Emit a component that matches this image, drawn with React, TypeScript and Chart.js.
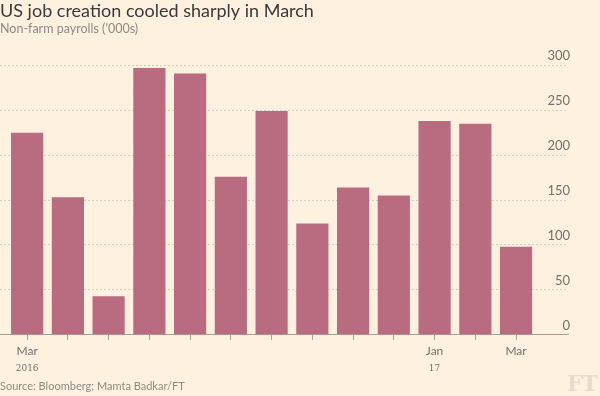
import React, { useEffect, useRef } from "react";
import { Chart, registerables } from "chart.js";

Chart.register(...registerables);

// ---- Data ----
const months = ["Mar 2016", "Apr", "May", "Jun", "Jul", "Aug", "Sep", "Oct", "Nov", "Dec", "Jan 2017", "Feb", "Mar"];
const payrolls = [225, 153, 43, 297, 291, 176, 249, 124, 164, 155, 238, 235, 98];
const monthTickLabels = ["Mar", "", "", "", "", "", "", "", "", "", "Jan", "", "Mar"];
const yearTickLabels = ["2016", "", "", "", "", "", "", "", "", "", "17", "", ""];
const yTickValues = [0, 50, 100, 150, 200, 250, 300];

const BG = "#fff1e0";
const BAR = "#b96c80";
const SANS = "Lato, 'Open Sans', sans-serif";

export default function App() {
  const canvasRef = useRef<HTMLCanvasElement | null>(null);

  useEffect(() => {
    if (!canvasRef.current) return;
    const xRange = { min: -0.666, max: 13.275 };
    const setXTicks = (s: any) => {
      s.ticks = months.map((_, i) => ({ value: i }));
    };
    const chart = new Chart(canvasRef.current, {
      type: "bar",
      data: {
        datasets: [
          {
            label: "Non-farm payrolls",
            data: payrolls.map((v, i) => ({ x: i, y: v })),
            backgroundColor: BAR,
            borderWidth: 0,
            barPercentage: 0.79,
            categoryPercentage: 1,
            xAxisID: "x",
            yAxisID: "y",
          },
        ],
      },
      options: {
        responsive: false,
        animation: false,
        layout: { padding: { top: 0, right: 28, bottom: 21, left: 0 } },
        plugins: {
          legend: { display: false },
          tooltip: { enabled: false },
          title: {
            display: true,
            text: "US job creation cooled sharply in March",
            align: "start",
            color: "#3a3a3a",
            font: { family: SANS, size: 18, weight: "normal", lineHeight: 1.2 },
            padding: { top: 0, bottom: 0 },
          },
          subtitle: {
            display: true,
            text: "Non-farm payrolls ('000s)",
            align: "start",
            color: "#8e8a86",
            font: { family: SANS, size: 12.5, weight: "normal", lineHeight: 1.2 },
            padding: { top: 0, bottom: 28.7 },
          },
        },
        scales: {
          x: {
            type: "linear",
            position: "bottom",
            min: xRange.min,
            max: xRange.max,
            offset: false,
            afterBuildTicks: setXTicks,
            grid: {
              display: true,
              offset: false,
              drawOnChartArea: false,
              drawTicks: true,
              tickLength: 5,
              tickColor: "#a89e94",
            },
            border: { display: true, color: "#a89e94", width: 1 },
            ticks: {
              autoSkip: false,
              maxRotation: 0,
              padding: 4,
              color: "#74706b",
              font: { family: SANS, size: 12 },
              callback: (v: any) => monthTickLabels[v as number] ?? "",
            },
          },
          x2: {
            type: "linear",
            position: "bottom",
            min: xRange.min,
            max: xRange.max,
            offset: false,
            afterBuildTicks: setXTicks,
            grid: { display: false, offset: false, drawTicks: false, tickLength: 0 },
            border: { display: false },
            ticks: {
              autoSkip: false,
              maxRotation: 0,
              padding: 1,
              color: "#74706b",
              font: { family: "Georgia, 'DejaVu Serif', serif", size: 9 },
              callback: (v: any) => yearTickLabels[v as number] ?? "",
            },
          },
          y: {
            position: "right",
            min: 0,
            max: 300,
            afterBuildTicks: (s: any) => {
              s.ticks = yTickValues.map((v) => ({ value: v }));
            },
            grid: { color: "#d9cbbd", drawTicks: false, lineWidth: 1 },
            border: { display: false, dash: [2, 2] },
            ticks: {
              mirror: true,
              padding: 2,
              labelOffset: -9,
              color: "#74706b",
              font: { family: SANS, size: 13 },
            },
          },
        },
      },
    });
    return () => chart.destroy();
  }, []);

  return (
    <div
      style={{
        position: "absolute",
        left: 0,
        top: 0,
        width: 600,
        height: 396,
        background: BG,
        overflow: "hidden",
      }}
    >
      <canvas ref={canvasRef} width={600} height={396} style={{ display: "block" }} />
      <div
        style={{
          position: "absolute",
          left: 0,
          top: 379,
          fontFamily: SANS,
          fontSize: 11,
          color: "#8e8a86",
          lineHeight: "14px",
          whiteSpace: "nowrap",
        }}
      >
        Source: Bloomberg; Mamta Badkar/FT
      </div>
      <div
        style={{
          position: "absolute",
          right: 3,
          top: 371,
          fontFamily: "Georgia, 'DejaVu Serif', serif",
          fontWeight: "bold",
          fontSize: 22,
          color: "#e6dbce",
          lineHeight: "24px",
          letterSpacing: -1,
        }}
      >
        FT
      </div>
    </div>
  );
}
